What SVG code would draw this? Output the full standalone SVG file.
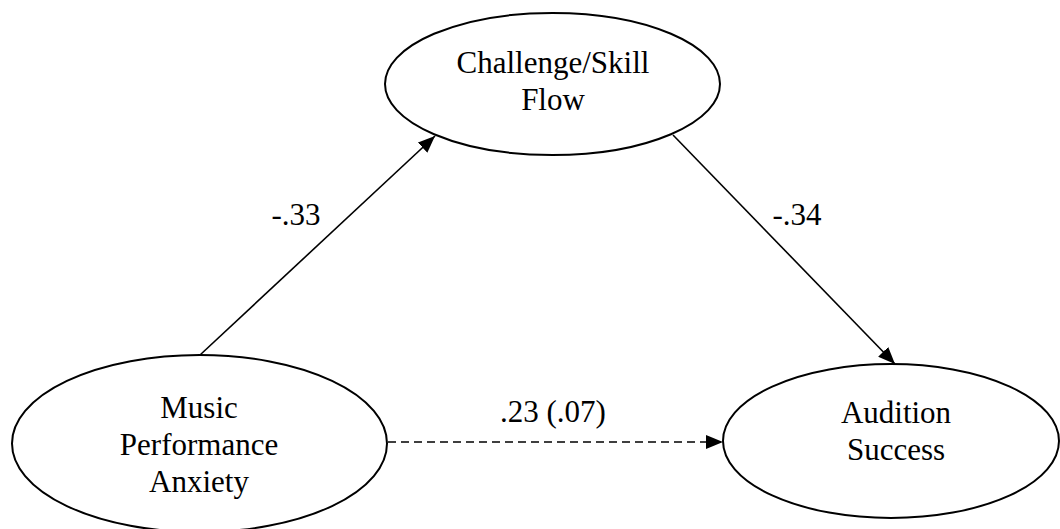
<svg xmlns="http://www.w3.org/2000/svg" width="1060" height="529" viewBox="0 0 1060 529">
<style>
.node ellipse{fill:#fff;stroke:#000;stroke-width:2}
text{font-family:"Liberation Serif","Times New Roman",serif;font-size:31px;fill:#000;text-anchor:middle}
.edge{stroke:#000;stroke-width:1.6;fill:none}
.dash{stroke-dasharray:8 5}
</style>
<defs>
<marker id="arr" markerUnits="userSpaceOnUse" markerWidth="18" markerHeight="14" refX="17" refY="7" orient="auto">
<path d="M0,0 L17,7 L0,14 z" fill="#000"/>
</marker>
</defs>
<rect width="1060" height="529" fill="#fff"/>
<g id="connectors">
<line class="edge" x1="200" y1="355" x2="435" y2="136" marker-end="url(#arr)"/>
<line class="edge" x1="673" y1="135" x2="895" y2="364" marker-end="url(#arr)"/>
<line class="edge dash" x1="388" y1="442" x2="723" y2="442" marker-end="url(#arr)"/>
<text x="296" y="225">-.33</text>
<text x="797" y="225">-.34</text>
<text x="553" y="422">.23 (.07)</text>
</g>
<g id="flow" class="node">
<ellipse cx="552.5" cy="84" rx="167.5" ry="71"/>
<text x="553" y="73">Challenge/Skill</text>
<text x="553" y="110">Flow</text>
</g>
<g id="anxiety" class="node">
<ellipse cx="199.5" cy="443.5" rx="187.5" ry="88.5"/>
<text x="199" y="418">Music</text>
<text x="199" y="455">Performance</text>
<text x="199" y="492">Anxiety</text>
</g>
<g id="audition" class="node">
<ellipse cx="891" cy="441" rx="168" ry="77"/>
<text x="896" y="423">Audition</text>
<text x="896" y="460">Success</text>
</g>
</svg>
